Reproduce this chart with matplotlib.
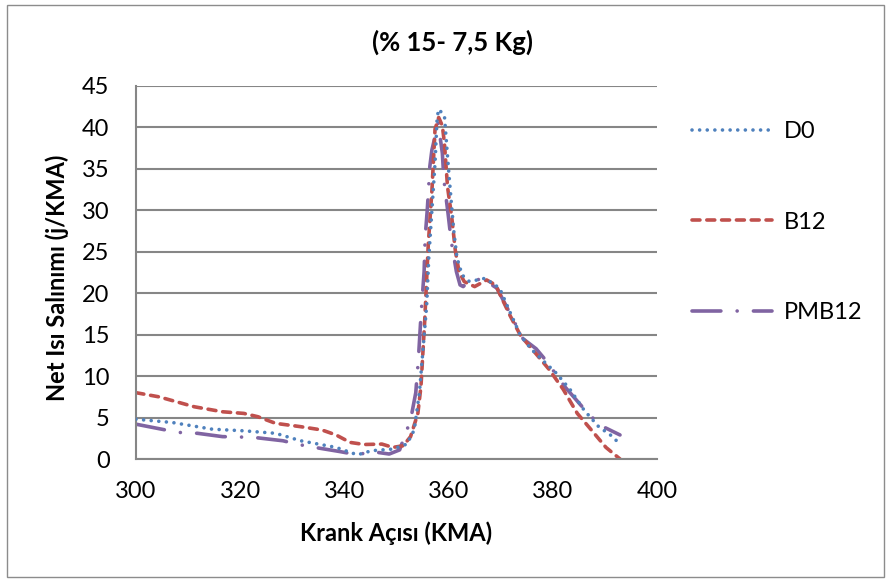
import matplotlib
matplotlib.use("Agg")
import matplotlib.pyplot as plt
from matplotlib.patches import Rectangle

plt.rcParams['font.family'] = ['Lato', 'DejaVu Sans']

# Crank angle (KMA) and net heat release (J/KMA) for each fuel
d0_x = [300, 307, 314.6, 320.7, 326.8, 331.6, 338.4, 342.5, 345.2, 349.3, 352, 353.4,
        354.4, 355.1, 355.8, 356.2, 356.8, 357.4, 357.8, 358.1, 359.2, 359.6, 360.1,
        360.6, 361, 361.6, 362.6, 364, 367, 369.8, 371.8, 373.8, 375.8, 377.9, 380.6,
        383.3, 386, 388.8, 391.5, 392.8]
d0_y = [4.8, 4.4, 3.6, 3.4, 3.1, 2.2, 1.4, 0.5, 1.0, 1.2, 1.8, 3.5,
        8.0, 13.3, 18.6, 24.3, 30.0, 35.7, 41.2, 42.2, 41.4, 38.1, 34.1,
        30.4, 27.5, 24.3, 22.2, 21.4, 21.8, 20.6, 17.7, 14.9, 13.3, 12.0, 10.4,
        8.4, 5.9, 3.9, 2.7, 1.8]

b12_x = [300, 304.4, 311.2, 316.6, 320.7, 323.4, 326.8, 331.6, 335.7, 338.4, 341.1,
         343.8, 347.2, 349.3, 351.3, 352.7, 354.1, 354.7, 355.4, 356.1, 356.8, 357.4,
         357.8, 358.1, 358.8, 359.2, 359.8, 360.6, 361.3, 362, 363, 365, 367.3, 369,
         371.8, 373.8, 376.5, 379.3, 382, 384.7, 387.4, 390.2, 392.9]
b12_y = [8.0, 7.5, 6.3, 5.7, 5.5, 5.1, 4.3, 3.9, 3.5, 2.9, 2.0,
         1.75, 1.8, 1.4, 1.6, 2.7, 5.5, 8.8, 16.5, 25.9, 32.4, 39.8,
         40.6, 41.2, 40.2, 38.1, 32.8, 29.2, 25.1, 22.6, 21.4, 20.8, 21.6, 21.0,
         17.3, 14.9, 12.9, 10.8, 8.4, 5.5, 3.5, 1.4, 0.0]

pmb12_x = [300, 305.7, 308.4, 311.8, 316.6, 320, 322.7, 328.2, 331.2, 334.3, 339.1,
           342.5, 345.2, 348.6, 350.6, 352.7, 353.7, 354.2, 354.7, 355.3, 355.5, 355.9,
           356.1, 356.4, 356.8, 358, 358.8, 359.1, 359.5, 359.9, 360.5, 361.5, 362.2,
           362.8, 363.8, 364.8, 366.6, 369.3, 372, 374.3, 376.8, 378.8, 382.2, 386.2,
           389, 392.9]
pmb12_y = [4.2, 3.5, 3.2, 3.1, 2.7, 2.65, 2.6, 2.2, 1.75, 1.4, 0.9,
           0.5, 0.9, 0.6, 1.1, 4.7, 8.0, 12.0, 17.3, 22.6, 26.7, 30.0,
           32.0, 35.3, 37.3, 40.5, 36.9, 33.7, 31.6, 29.6, 26.3, 22.6, 21.0,
           20.8, 21.4, 21.6, 21.7, 20.6, 17.3, 14.5, 13.3, 11.8, 8.8, 5.9,
           4.1, 2.9]

series_labels = ['D0', 'B12', 'PMB12']
title_text = '(% 15- 7,5 Kg)'
x_label = 'Krank Açısı (KMA)'
y_label = 'Net Isı Salınımı (j/KMA)'
x_ticks = [300, 320, 340, 360, 380, 400]
y_ticks = [0, 5, 10, 15, 20, 25, 30, 35, 40, 45]

W, H = 891, 581
fig = plt.figure(figsize=(W / 100, H / 100), dpi=100)
ax = fig.add_axes([136 / W, 1 - 459 / H, (657 - 136) / W, (459 - 86) / H])

# outer chart border
fig.patches.append(Rectangle((7 / W, 4 / H), (884 - 7) / W, (576 - 4) / H,
                             transform=fig.transFigure, fill=False,
                             edgecolor='#8c8c8c', linewidth=1.0))

lw = 2.6
ax.plot(d0_x, d0_y, color='#4F81BD', lw=lw, linestyle=(0, (0.01, 2.1)),
        dash_capstyle='round', label=series_labels[0], zorder=3)
ax.plot(b12_x, b12_y, color='#C0504D', lw=lw, linestyle=(0, (2.2, 1.9)),
        dash_capstyle='round', label=series_labels[1], zorder=2)
ax.plot(pmb12_x, pmb12_y, color='#8064A2', lw=lw, linestyle=(0, (8, 4.5, 0.01, 4.5)),
        dash_capstyle='round', label=series_labels[2], zorder=1)

ax.set_xlim(300, 400)
ax.set_ylim(0, 45)
ax.set_xticks(x_ticks)
ax.set_yticks(y_ticks)
ax.grid(axis='y', color='#868686', linewidth=1.5)
ax.set_axisbelow(True)
for side in ['top', 'right']:
    ax.spines[side].set_visible(False)
for side in ['left', 'bottom']:
    ax.spines[side].set_color('#868686')
    ax.spines[side].set_linewidth(1.5)
ax.tick_params(axis='both', length=0, labelsize=17)
ax.tick_params(axis='y', pad=19)
ax.tick_params(axis='x', pad=16)

fig.text(453 / W, 1 - 42 / H, title_text, ha='center', va='center',
         fontsize=18.5, fontweight='bold')
fig.text(396 / W, 1 - 533 / H, x_label, ha='center', va='center',
         fontsize=17, fontweight='bold')
fig.text(57 / W, 1 - 278 / H, y_label, ha='center', va='center',
         rotation=90, fontsize=17, fontweight='bold')

ax.legend(loc='upper left', bbox_to_anchor=(692 / W, 1 - 121 / H),
          bbox_transform=fig.transFigure, frameon=False, fontsize=17,
          handlelength=3.4, handletextpad=0.5, labelspacing=2.95,
          borderpad=0, borderaxespad=0)

fig.savefig('out.png', dpi=100)
